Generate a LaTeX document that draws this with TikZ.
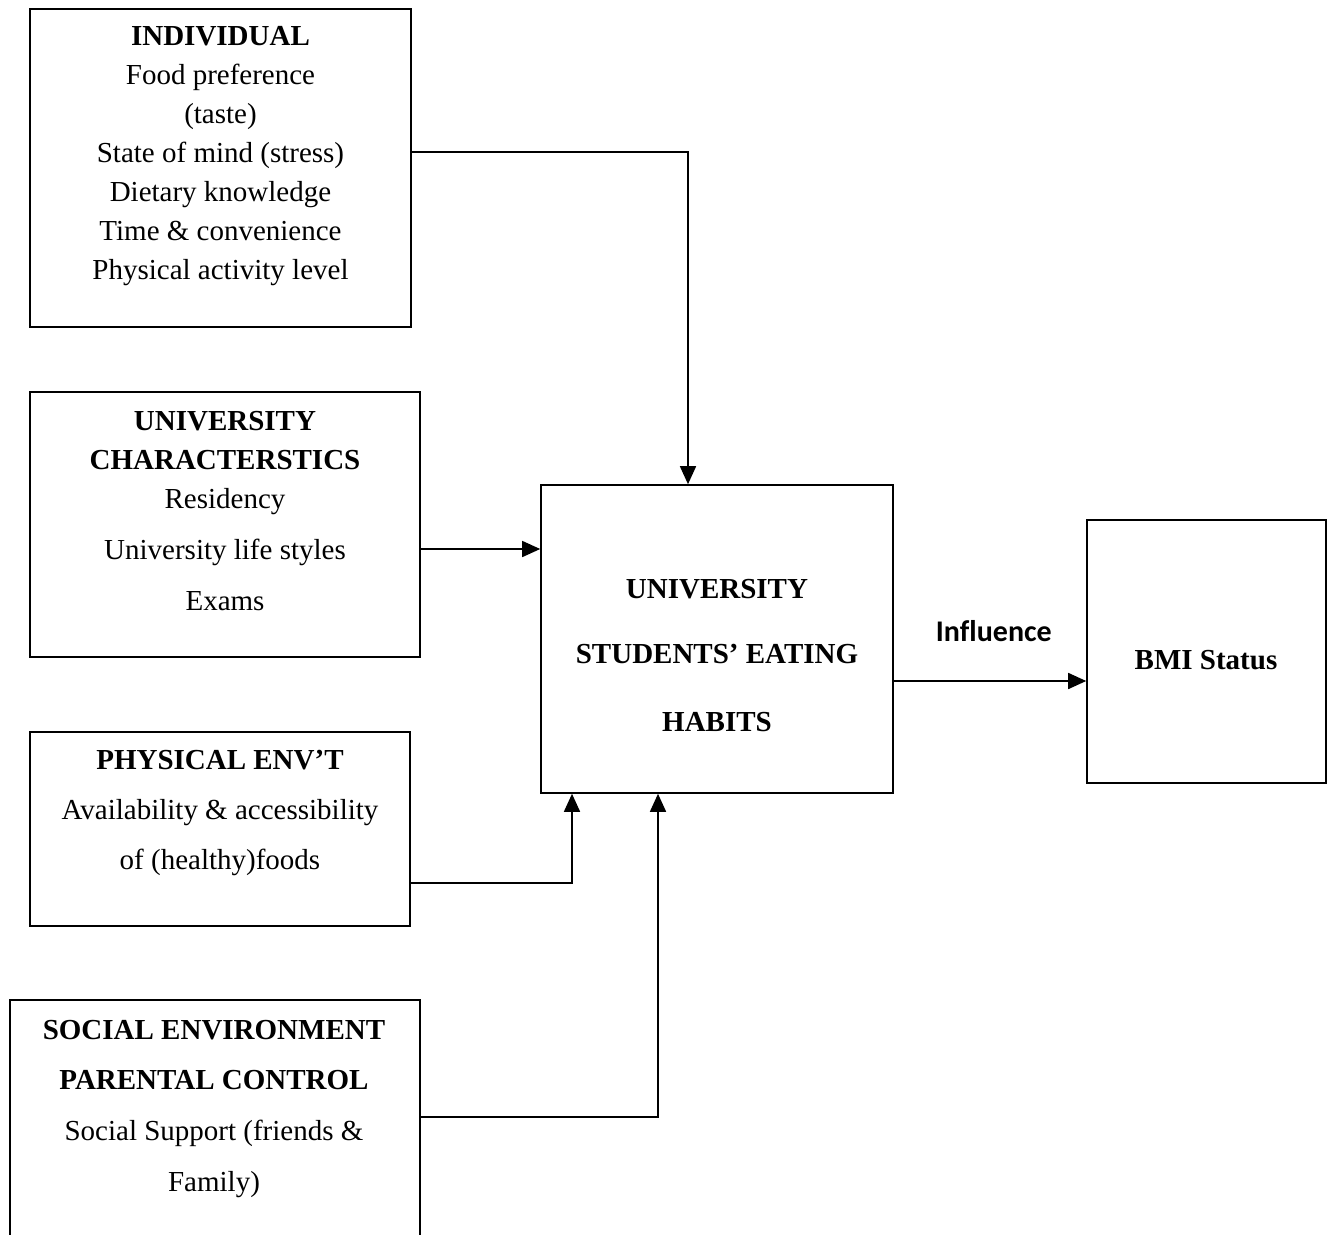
\documentclass[tikz,border=0pt]{standalone}
\usepackage{fontspec}
\setmainfont{Liberation Serif}
\newfontfamily\calib{Carlito}
\usetikzlibrary{arrows.meta,positioning}
\begin{document}
\begin{tikzpicture}[x=1pt,y=-1pt,
  box/.style={draw,line width=1.6pt,inner sep=0pt,minimum width=#1},
  txt/.style={align=center,font=\fontsize{29}{39}\selectfont,inner sep=0pt},
  arr/.style={line width=1.6pt,-{Triangle[length=18pt,width=16pt]}}]
\useasboundingbox (0,0) rectangle (1332,1234);
\clip (0,0) rectangle (1332,1234);
\fill[white] (0,0) rectangle (1332,1234);
% boxes
\node[box=381pt,minimum height=318pt] (ind) at (220.5,168) {};
\node[box=390pt,minimum height=265pt] (uc) at (225,524.5) {};
\node[box=380pt,minimum height=194pt] (pe) at (220,829) {};
\node[box=410pt,minimum height=260pt] (se) at (215,1130) {};
\node[box=352pt,minimum height=308pt] (hab) at (717,639) {};
\node[box=239pt,minimum height=263pt] (bmi) at (1206.5,651.5) {};
% texts
\node[txt] (tind) at (220.5,156.5) {\textbf{INDIVIDUAL}\\Food preference\\(taste)\\State of mind (stress)\\Dietary knowledge\\Time \& convenience\\Physical activity level};
\node[txt] (tuc) at (225,511) {\textbf{UNIVERSITY}\\\textbf{CHARACTERSTICS}\\Residency\\[12pt]University life styles\\[12pt]Exams};
\node[txt] (tpe) at (220,813) {\textbf{PHYSICAL ENV'T}\\[11pt]Availability \& accessibility\\[11pt]of (healthy)foods};
\node[txt] (tse) at (214,1109) {\textbf{SOCIAL ENVIRONMENT}\\[11pt]\textbf{PARENTAL CONTROL}\\[12pt]Social Support (friends \&\\[12pt]Family)};
\node[txt] (thab) at (717,656) {\textbf{UNIVERSITY}\\[26pt]\textbf{STUDENTS' EATING}\\[29pt]\textbf{HABITS}};
\node[txt] (tbmi) at (1206,660) {\textbf{BMI Status}};
% connectors
\coordinate (c1) at ([yshift=16pt]ind.east);
\coordinate (c2) at ([yshift=-24.5pt]uc.east);
\coordinate (c3) at ([yshift=-54pt]pe.east);
\coordinate (c4) at ([yshift=13pt]se.east);
\coordinate (c5) at ([yshift=-42pt]hab.east);
\draw[arr] (c1) -| ([xshift=-29pt]hab.north);
\draw[arr] (c2) -- (c2 -| hab.west);
\draw[arr] (c3) -| ([xshift=-145pt]hab.south);
\draw[arr] (c4) -| ([xshift=-59pt]hab.south);
\draw[arr] (c5) -- (c5 -| bmi.west) node[pos=0.52,above=38pt,font=\calib\bfseries\fontsize{30}{34}\selectfont,inner sep=0pt] (infl) {Inf\kern0ptluence};
\end{tikzpicture}
\end{document}
